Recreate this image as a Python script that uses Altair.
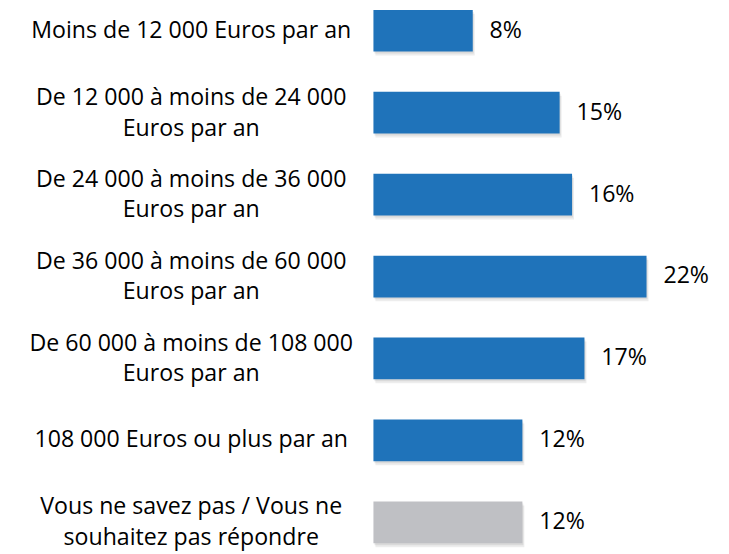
import altair as alt
import pandas as pd

categories = [
    "Moins de 12 000 Euros par an",
    "De 12 000 à moins de 24 000|Euros par an",
    "De 24 000 à moins de 36 000|Euros par an",
    "De 36 000 à moins de 60 000|Euros par an",
    "De 60 000 à moins de 108 000|Euros par an",
    "108 000 Euros ou plus par an",
    "Vous ne savez pas / Vous ne|souhaitez pas répondre",
]
values = [8, 15, 16, 22, 17, 12, 12]

df = pd.DataFrame({"category": categories, "value": values})

FONT = "Open Sans"
FS = 23.3

y_enc = alt.Y(
    "category:N",
    sort=categories,
    scale=alt.Scale(paddingInner=0.491, paddingOuter=0),
    axis=alt.Axis(
        title=None,
        ticks=False,
        domain=False,
        grid=False,
        labelAlign="center",
        labelPadding=184,
        labelFont=FONT,
        labelFontSize=FS,
        labelColor="#000000",
        labelLineHeight=31,
        labelLimit=0,
        labelOffset={"condition": {"test": "indexof(datum.label, '|') >= 0", "value": -15}, "value": 0},
        labelExpr="split(datum.label, '|')",
    ),
)
x_enc = alt.X("value:Q", scale=alt.Scale(domain=[0, 28]), axis=None)

base = alt.Chart(df)

shadow1 = base.mark_bar(color="#000000", opacity=0.07, xOffset=2, yOffset=4).encode(x=x_enc, y=y_enc)
shadow2 = base.mark_bar(color="#000000", opacity=0.08, xOffset=1, yOffset=2).encode(x=x_enc, y=y_enc)

bars = base.mark_bar().encode(
    x=x_enc,
    y=y_enc,
    color=alt.condition(
        "datum.category == 'Vous ne savez pas / Vous ne|souhaitez pas répondre'",
        alt.value("#BFC0C4"),
        alt.value("#1F73BA"),
    ),
)

labels = base.transform_calculate(txt="datum.value + '%'").mark_text(
    align="left", baseline="middle", dx=17, font=FONT, fontSize=FS, color="#000000"
).encode(x=x_enc, y=y_enc, text="txt:N")

chart = (
    alt.layer(shadow1, shadow2, bars, labels)
    .properties(
        width=350,
        height=537,
        autosize=alt.AutoSizeParams(type="none"),
        padding={"left": 368, "top": 0, "right": 0, "bottom": 9},
        background="#ffffff",
    )
    .configure_view(stroke=None, strokeWidth=0)
)

chart.save("out.html", embed_options={"renderer": "svg", "actions": False})
